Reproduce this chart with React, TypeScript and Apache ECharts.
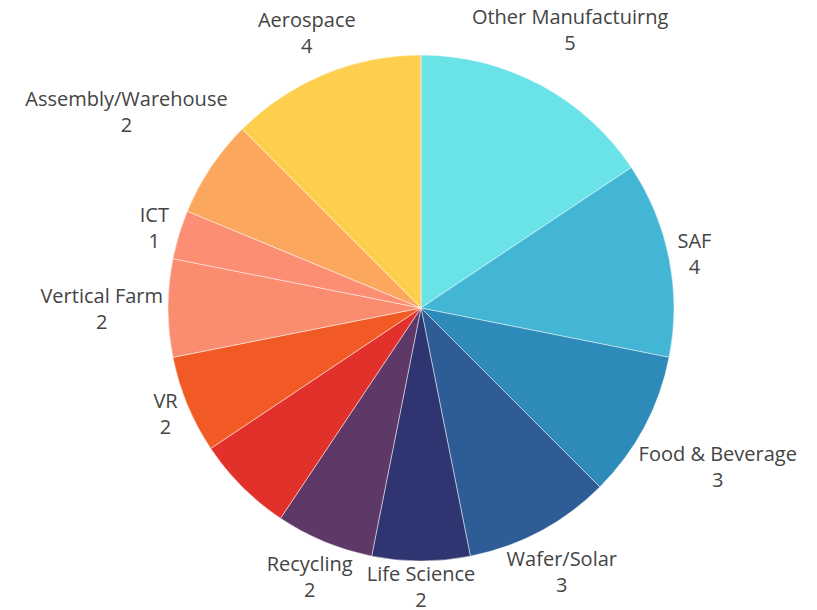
import React, { useEffect, useRef } from "react";
import * as echarts from "echarts";

const categories = [
  "Other Manufactuirng",
  "SAF",
  "Food & Beverage",
  "Wafer/Solar",
  "Life Science",
  "Recycling",
  "(unlabeled)",
  "VR",
  "Vertical Farm",
  "ICT",
  "Assembly/Warehouse",
  "Aerospace",
];
const values = [5, 4, 3, 3, 2, 2, 2, 2, 2, 1, 2, 4];
const colors = [
  "#69E3E8",
  "#43B6D6",
  "#2D8AB9",
  "#2E5C96",
  "#2E3570",
  "#5E3867",
  "#E2302A",
  "#F15A24",
  "#FA8D70",
  "#FC8F73",
  "#FBA75E",
  "#FECE4E",
];
const hiddenLabels = ["(unlabeled)"];

const CX = 421;
const CY = 308;
const R = 253;
const GAP = 5;
const TOP_INSET = 6;

export default function App() {
  const ref = useRef<HTMLDivElement>(null);
  useEffect(() => {
    if (!ref.current) return;
    const chart = echarts.init(ref.current, null, { renderer: "svg" });
    const total = values.reduce((a, b) => a + b, 0);
    const data = categories.map((name, i) => ({
      name,
      value: values[i],
      itemStyle: { color: colors[i] },
      label: { show: !hiddenLabels.includes(name) },
    }));
    chart.setOption({
      animation: false,
      backgroundColor: "#ffffff",
      series: [
        {
          type: "pie",
          center: [CX, CY],
          radius: [0, R],
          startAngle: 90,
          clockwise: true,
          avoidLabelOverlap: false,
          data,
          itemStyle: { borderColor: "rgba(255,255,255,0.8)", borderWidth: 0.6 },
          emphasis: { disabled: true },
          label: {
            show: true,
            position: "outside",
            formatter: "{b}\n{c}",
            fontFamily: "Open Sans",
            fontSize: 20,
            lineHeight: 26,
            color: "#444444",
          },
          labelLine: { show: false },
          labelLayout: (params: any) => {
            const i = params.dataIndex;
            let cum = 0;
            for (let j = 0; j < i; j++) cum += values[j];
            const mid = ((cum + values[i] / 2) / total) * Math.PI * 2;
            const ux = Math.sin(mid);
            const uy = -Math.cos(mid);
            const hw = params.labelRect.width / 2;
            const hh =
              uy < 0
                ? params.labelRect.height / 2
                : params.labelRect.height / 2 - TOP_INSET;
            const target = R + GAP;
            const nearest = (d: number) => {
              const px = Math.max(0, Math.abs(d * ux) - hw);
              const py = Math.max(0, Math.abs(d * uy) - hh);
              return Math.sqrt(px * px + py * py);
            };
            let lo = 0;
            let hi = 2000;
            for (let k = 0; k < 60; k++) {
              const m = (lo + hi) / 2;
              if (nearest(m) < target) lo = m;
              else hi = m;
            }
            const d = (lo + hi) / 2;
            return {
              x: CX + d * ux,
              y: CY + d * uy,
              align: "center",
              verticalAlign: "middle",
            };
          },
        },
      ],
    });
    return () => chart.dispose();
  }, []);
  return (
    <div
      ref={ref}
      style={{ position: "absolute", left: 0, top: 0, width: 817, height: 610 }}
    />
  );
}
